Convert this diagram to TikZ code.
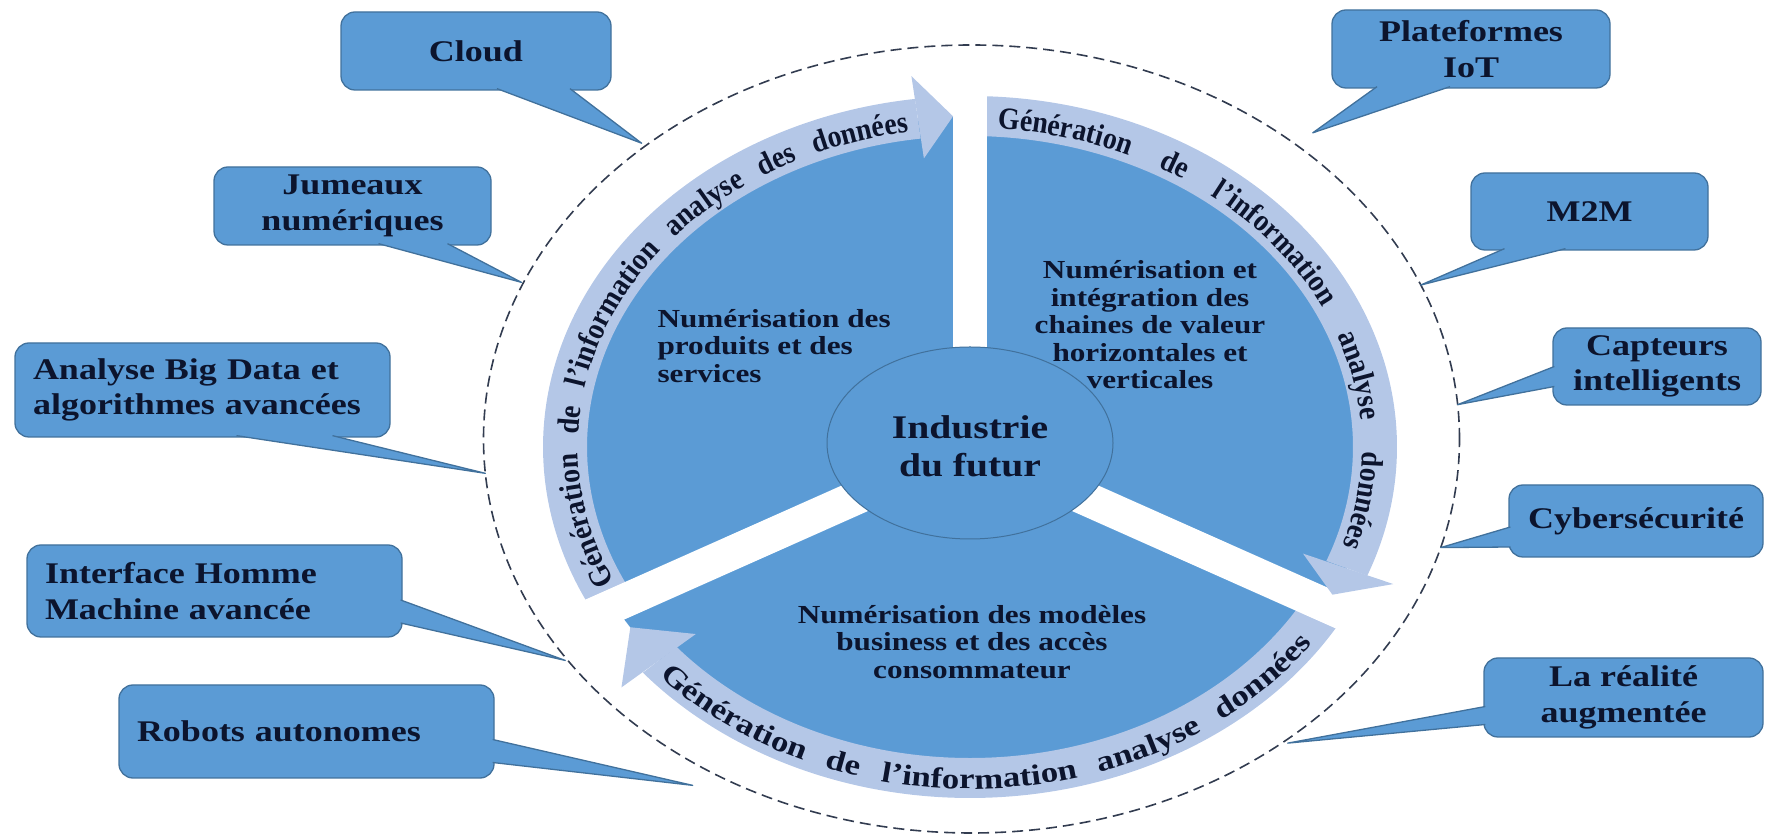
\documentclass[tikz,border=0pt]{standalone}
\usepackage{fontspec}
\setmainfont{Liberation Serif}[FakeStretch=1.2]
\newfontfamily\arcfont{Liberation Serif}[FakeStretch=0.9]
\usepackage{xcolor}
\usetikzlibrary{positioning,decorations.text}

\definecolor{boxblue}{RGB}{91,155,213}
\definecolor{boxline}{RGB}{65,113,156}
\definecolor{bandblue}{RGB}{180,199,231}
\definecolor{ink}{RGB}{12,20,45}
\definecolor{rim}{RGB}{50,60,80}

\begin{document}
\begin{tikzpicture}[x=1pt, y=1pt,
    note/.style = {rectangle, rounded corners=14pt, draw=boxline,
      line width=1.3pt, fill=boxblue, text=ink, inner sep=0pt,
      align=center, font=\bfseries\fontsize{30}{35.5}\selectfont},
    leftnote/.style = {note, align=left, inner xsep=18pt, text width=339pt},
    wedge/.style = {fill=boxblue, draw=boxline, line width=1.3pt, line join=round},
    sector/.style = {fill=boxblue},
    band/.style = {fill=bandblue},
    gap/.style = {draw=white, line width=34pt},
    sectortext/.style = {text=ink, font=\bfseries\fontsize{26}{27.5}\selectfont},
    arctext/.style = {decorate, decoration={text along path, text color=ink,
      text align={fit to path stretching spaces}, text={#1}}}
  ]
  \useasboundingbox (0,0) rectangle (1767,835);

  % pie with the three curved arrows
  \begin{scope}[shift={(970,388)}]
    \fill[sector] (0,0) ellipse [x radius=405, y radius=331];
    \fill[band] (208.4:427 and 351) arc[start angle=208.4, end angle=97.4, x radius=427, y radius=351]
      -- (97.4:383 and 311) arc[start angle=97.4, end angle=208.4, x radius=383, y radius=311] -- cycle;
    \fill[band] (90:427 and 351) arc[start angle=90, end angle=-21.5, x radius=427, y radius=351]
      -- (-21.5:383 and 311) arc[start angle=-21.5, end angle=90, x radius=383, y radius=311] -- cycle;
    \fill[band] (-28.4:427 and 351) arc[start angle=-28.4, end angle=-140, x radius=427, y radius=351]
      -- (-140:383 and 311) arc[start angle=-140, end angle=-28.4, x radius=383, y radius=311] -- cycle;
    \draw[gap] (0,0) -- (90:400);
    \draw[gap] (0,0) -- (204:440);
    \draw[gap] (0,0) -- (336:440);
    \fill[band] (97.4:455 and 374) -- (92.4:405 and 331) -- (97.4:358 and 291) -- cycle;
    \fill[band] (-21.5:455 and 374) -- (-26.5:405 and 331) -- (-21.5:358 and 291) -- cycle;
    \fill[band] (-140:455 and 374) -- (-147:405 and 331) -- (-140:358 and 291) -- cycle;
    \draw[sector, draw=boxline, line width=1pt] (0,4) ellipse [x radius=143, y radius=96];

    \path[arctext={|\arcfont\bfseries\fontsize{31}{31}\selectfont|Génération de l’information analyse des données}]
      (205:392 and 319) arc[start angle=205, end angle=99, x radius=392, y radius=319];
    \path[arctext={|\arcfont\bfseries\fontsize{31}{31}\selectfont|Génération de l’information analyse données}]
      (86:392 and 319) arc[start angle=86, end angle=-18, x radius=392, y radius=319];
    \path[arctext={|\bfseries\fontsize{29}{29}\selectfont|Génération de l’information analyse données}]
      (222:418 and 342) arc[start angle=222, end angle=325, x radius=418, y radius=342];
  \end{scope}

  \node[sectortext, align=left, anchor=west] (produits) at (654,489)
    {Numérisation des\\produits et des\\services};
  \node[sectortext, align=center] (chaines) at (1150,510)
    {Numérisation et\\intégration des\\chaines de valeur\\horizontales et\\verticales};
  \node[sectortext, align=center] (modeles) at (972,193)
    {Numérisation des modèles\\business et des accès\\consommateur};
  \node[text=ink, align=center, font=\bfseries\fontsize{33}{38}\selectfont] (futur) at (970,389)
    {Industrie\\du futur};

  % dashed ring and the points the callouts aim at
  \begin{scope}[shift={(971.5,396)}]
    \draw[rim, dash pattern=on 11pt off 6pt, line width=1.6pt] (0,0) ellipse [x radius=488, y radius=394];
    \coordinate (tcloud) at (132:493 and 398);
    \coordinate (tjumeaux) at (156.7:490 and 396);
    \coordinate (tbigdata) at (185:488 and 394);
    \coordinate (tihm) at (214:490 and 396);
    \coordinate (trobots) at (237:512 and 413);
    \coordinate (tiot) at (48:510 and 412);
    \coordinate (tm2m) at (23:488 and 394);
    \coordinate (tcapteurs) at (5:488 and 394);
    \coordinate (tcyber) at (-16:488 and 394);
    \coordinate (trealite) at (-50:492 and 397);
  \end{scope}

  \node[note, minimum width=270pt, minimum height=78pt] (cloud) at (476,784) {Cloud};
  \node[note, minimum width=277pt, minimum height=78pt] (jumeaux) at (352.5,629) {Jumeaux\\numériques};
  \node[leftnote, minimum height=94pt] (bigdata) at (202.5,445) {Analyse Big Data et\\algorithmes avancées};
  \node[leftnote, minimum height=92pt] (ihm) at (214.5,244) {Interface Homme\\Machine avancée};
  \node[leftnote, minimum height=93pt] (robots) at (306.5,103.5) {Robots autonomes};
  \node[note, minimum width=278pt, minimum height=78pt] (iot) at (1471,786) {Plateformes\\IoT};
  \node[note, minimum width=237pt, minimum height=77pt] (m2m) at (1589.5,623.5) {M2M};
  \node[note, minimum width=208pt, minimum height=77pt] (capteurs) at (1657,468.5) {Capteurs\\intelligents};
  \node[note, minimum width=254pt, minimum height=72pt] (cyber) at (1636,314) {Cybersécurité};
  \node[note, minimum width=279pt, minimum height=79pt] (realite) at (1623.5,137.5) {La réalité\\augmentée};

  \filldraw[wedge] ([xshift=21pt,yshift=2pt]cloud.south) -- (tcloud) -- ([xshift=94pt,yshift=2pt]cloud.south);
  \filldraw[wedge] ([xshift=26pt,yshift=2pt]jumeaux.south) -- (tjumeaux) -- ([xshift=95pt,yshift=2pt]jumeaux.south);
  \filldraw[wedge] ([xshift=34pt,yshift=2pt]bigdata.south) -- (tbigdata) -- ([xshift=130pt,yshift=2pt]bigdata.south);
  \filldraw[wedge] ([xshift=-2pt,yshift=-9pt]ihm.east) -- (tihm) -- ([xshift=-2pt,yshift=-32pt]ihm.east);
  \filldraw[wedge] ([xshift=-2pt,yshift=-8pt]robots.east) -- (trobots) -- ([xshift=-2pt,yshift=-31pt]robots.east);
  \filldraw[wedge] ([xshift=-94pt,yshift=2pt]iot.south) -- (tiot) -- ([xshift=-21pt,yshift=2pt]iot.south);
  \filldraw[wedge] ([xshift=-85pt,yshift=2pt]m2m.south) -- (tm2m) -- ([xshift=-24pt,yshift=2pt]m2m.south);
  \filldraw[wedge] ([xshift=2pt,yshift=0pt]capteurs.west) -- (tcapteurs) -- ([xshift=2pt,yshift=-20pt]capteurs.west);
  \filldraw[wedge] ([xshift=2pt,yshift=-6pt]cyber.west) -- (tcyber) -- ([xshift=2pt,yshift=-26pt]cyber.west);
  \filldraw[wedge] ([xshift=2pt,yshift=-9pt]realite.west) -- (trealite) -- ([xshift=2pt,yshift=-27pt]realite.west);
\end{tikzpicture}
\end{document}
